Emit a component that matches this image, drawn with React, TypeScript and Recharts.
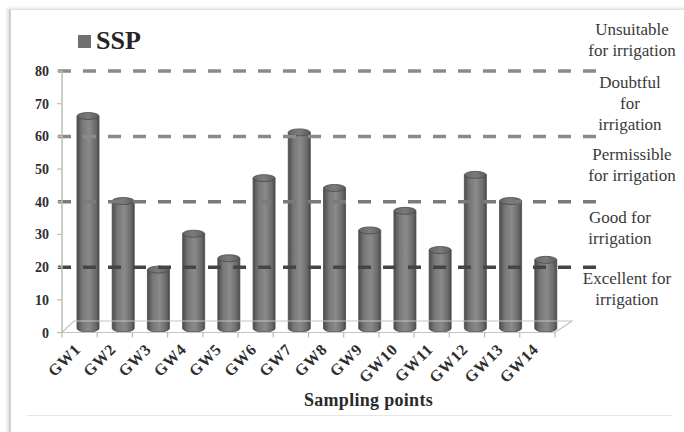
import React from 'react';
import { BarChart, Bar, XAxis, YAxis, ReferenceLine, Legend } from 'recharts';

// ---- data ----
const categories = ['GW1', 'GW2', 'GW3', 'GW4', 'GW5', 'GW6', 'GW7', 'GW8', 'GW9', 'GW10', 'GW11', 'GW12', 'GW13', 'GW14'];
const sspValues = [65, 39, 18, 29, 21.5, 46, 60, 43, 30, 36, 24, 47, 39, 21];
const yTicks = [0, 10, 20, 30, 40, 50, 60, 70, 80];
const thresholds = [80, 60, 40, 20];
const labelAbove = [
  ['Unsuitable', 'for irrigation'],
  ['Doubtful', 'for', 'irrigation'],
  ['Permissible', 'for irrigation'],
  ['Good for', 'irrigation'],
];
const labelBelowLowest = ['Excellent for', 'irrigation'];
const seriesName = 'SSP';
const xTitle = 'Sampling points';

const data = categories.map((c, i) => ({ name: c, SSP: sspValues[i] }));

// ---- layout / style ----
const W = 684;
const H = 432;
const MARGIN = { top: 71, right: 129, bottom: 39.5, left: 20 };
const Y_AXIS_W = 42;
const X_AXIS_H = 60;
const BAND = (W - MARGIN.left - Y_AXIS_W - MARGIN.right) / categories.length;
const SERIF = "'Liberation Serif', 'Times New Roman', serif";
const lineColors = ['#8a8a8a', '#8a8a8a', '#7a7a7a', '#454545'];
const labelCenters = [632, 630, 632, 620];
const labelLastBaselineGap = [15, 6, 21, 23];
const LINE_H = 21;

const CylBar = (props: any) => {
  const { x, y, width, height } = props;
  if (height == null || width == null) return null;
  const dx = 8;
  const dy = -4;
  const cx = x + dx;
  const top = y + dy;
  const bottom = y + height + dy;
  const ry = 3.5;
  const w = width;
  return (
    <g>
      <path
        d={`M${cx},${top} L${cx},${bottom} A${w / 2},${ry} 0 0 0 ${cx + w},${bottom} L${cx + w},${top} Z`}
        fill="url(#cylGrad)"
        stroke="#4a4a4a"
        strokeWidth={0.8}
      />
      <ellipse cx={cx + w / 2} cy={top} rx={w / 2} ry={ry} fill="url(#capGrad)" stroke="#4a4a4a" strokeWidth={0.8} />
    </g>
  );
};

const renderBlock = (lines: string[], cx: number, firstBaseline: number, key: string) => (
  <text key={key} x={cx} y={firstBaseline} textAnchor="middle" fontFamily={SERIF} fontSize={17} fill="#3a3a3a">
    {lines.map((ln, i) => (
      <tspan key={i} x={cx} y={firstBaseline + i * LINE_H} fontFamily={SERIF}>
        {ln}
      </tspan>
    ))}
  </text>
);

const makeThresholdShape = (idx: number) => (p: any) => {
  const { x1, y1, x2 } = p;
  const lines = labelAbove[idx];
  const above = renderBlock(lines, labelCenters[idx], y1 - labelLastBaselineGap[idx] - (lines.length - 1) * LINE_H, 'a');
  const isLowest = idx === thresholds.length - 1;
  return (
    <g>
      <line
        x1={x1 - 4}
        y1={y1}
        x2={x2 + 43}
        y2={y1}
        stroke={lineColors[idx]}
        strokeWidth={3.5}
        strokeDasharray="13 12"
      />
      {above}
      {isLowest ? renderBlock(labelBelowLowest, 627, y1 + 17, 'b') : null}
    </g>
  );
};

const FloorShape = (p: any) => {
  const { x1, y1, x2 } = p;
  const ddx = 12;
  const ddy = -11.5;
  return (
    <g>
      <polygon
        points={`${x1},${y1} ${x2},${y1} ${x2 + ddx + 5},${y1 + ddy} ${x1 + ddx},${y1 + ddy}`}
        fill="none"
        stroke="#c4c4c4"
        strokeWidth={1.2}
      />
    </g>
  );
};

const XTick = (props: any) => {
  const { x, payload, index } = props;
  const base = H - MARGIN.bottom - X_AXIS_H;
  const ty = base + 18;
  const tx = x + 2;
  return (
    <g>
      <line x1={x - BAND / 2} y1={base} x2={x - BAND / 2} y2={base + 5} stroke="#b8b8b8" strokeWidth={1.2} />
      {index === categories.length - 1 ? (
        <line x1={x + BAND / 2} y1={base} x2={x + BAND / 2} y2={base + 5} stroke="#b8b8b8" strokeWidth={1.2} />
      ) : null}
      <text
        x={tx}
        y={ty}
        textAnchor="end"
        transform={`rotate(-45, ${tx}, ${ty})`}
        fontFamily={SERIF}
        fontSize={16}
        fontWeight="bold"
        letterSpacing={0.6}
        fill="#2e2e2e"
      >
        {payload.value}
      </text>
    </g>
  );
};

const YTick = (props: any) => {
  const { y, payload } = props;
  return (
    <text x={49} y={y + 5} textAnchor="end" fontFamily={SERIF} fontSize={14} fontWeight="bold" fill="#2e2e2e">
      {payload.value}
    </text>
  );
};

const XTitle = (props: any) => {
  const vb = props.viewBox || { x: 62, y: 332.5, width: 493, height: 60 };
  const cx = vb.x + vb.width / 2 + 60;
  return (
    <text x={cx} y={406} textAnchor="middle" fontFamily={SERIF} fontSize={18} fontWeight="bold" fill="#2a2a2a" letterSpacing={0.3}>
      {xTitle}
    </text>
  );
};

const LegendContent = () => (
  <div style={{ display: 'flex', alignItems: 'center', fontFamily: SERIF, fontWeight: 'bold', fontSize: 26, color: '#252525', lineHeight: '30px', whiteSpace: 'nowrap' }}>
    <span style={{ display: 'inline-block', width: 13, height: 13, background: '#707070', marginRight: 5 }} />
    <span>{seriesName}</span>
  </div>
);

export default function App() {
  return (
    <div style={{ position: 'absolute', left: 0, top: 0, width: W, height: H, background: '#fff', overflow: 'hidden' }}>
      <div
        style={{
          position: 'absolute',
          left: 9,
          top: 9,
          width: W,
          height: H,
          borderTop: '1px solid #e2e2e2',
          borderLeft: '2px solid #d0d0d0',
          boxShadow: '-2px -1px 3px rgba(0,0,0,0.12)',
        }}
      />
      <div style={{ position: 'absolute', left: 27, top: 415, width: 645, height: 1, background: '#e6e6e6' }} />
      <div style={{ position: 'absolute', left: 0, top: 0 }}>
        <BarChart width={W} height={H} data={data} margin={MARGIN}>
          <defs>
            <linearGradient id="cylGrad" x1="0" y1="0" x2="1" y2="0">
              <stop offset="0%" stopColor="#4c4c4c" />
              <stop offset="25%" stopColor="#787878" />
              <stop offset="55%" stopColor="#8a8a8a" />
              <stop offset="85%" stopColor="#6a6a6a" />
              <stop offset="100%" stopColor="#4a4a4a" />
            </linearGradient>
            <linearGradient id="capGrad" x1="0" y1="0" x2="1" y2="0">
              <stop offset="0%" stopColor="#666" />
              <stop offset="50%" stopColor="#7c7c7c" />
              <stop offset="100%" stopColor="#5c5c5c" />
            </linearGradient>
          </defs>
          <XAxis
            dataKey="name"
            height={X_AXIS_H}
            axisLine={false}
            tickLine={false}
            interval={0}
            tick={<XTick />}
            label={<XTitle />}
          />
          <YAxis
            width={Y_AXIS_W}
            domain={[0, 80]}
            ticks={yTicks}
            interval={0}
            axisLine={{ stroke: '#bdbdbd', strokeWidth: 1.5 }}
            tickLine={{ stroke: '#bdbdbd', strokeWidth: 1.2 }}
            tickSize={5}
            tick={<YTick />}
          />
          <ReferenceLine y={0} shape={FloorShape} />
          <Legend
            layout="horizontal"
            verticalAlign="middle"
            align="center"
            wrapperStyle={{ position: 'absolute', left: 78, top: 26, width: 120 }}
            content={<LegendContent />}
          />
          <Bar dataKey="SSP" name={seriesName} barSize={22} fill="#707070" shape={<CylBar />} isAnimationActive={false} />
          {thresholds.map((t, i) => (
            <ReferenceLine key={t} y={t} shape={makeThresholdShape(i)} />
          ))}
        </BarChart>
      </div>
    </div>
  );
}
